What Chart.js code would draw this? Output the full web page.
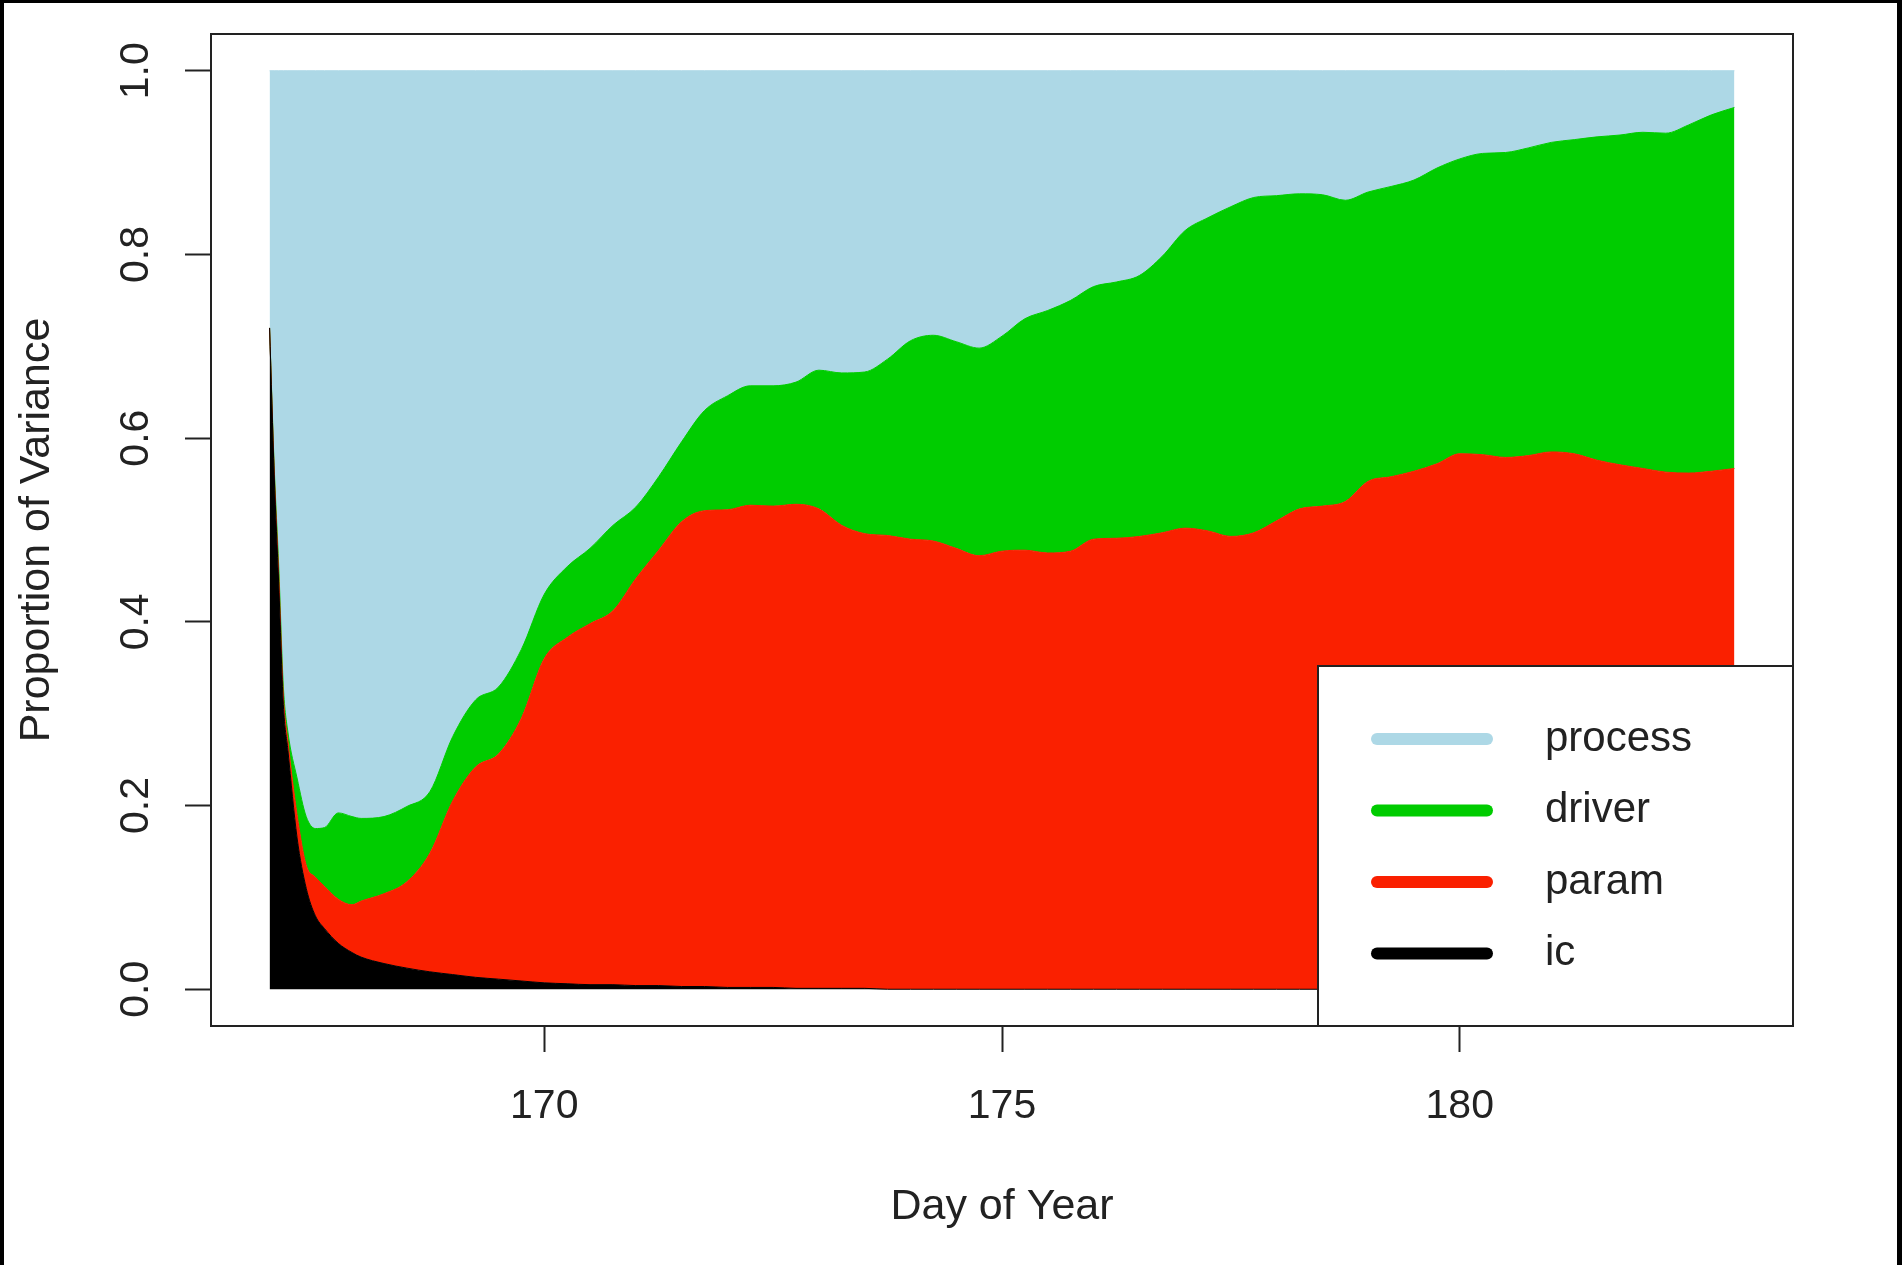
<!DOCTYPE html>
<html>
<head>
<meta charset="utf-8">
<title>Proportion of Variance</title>
<script src="https://cdn.jsdelivr.net/npm/chart.js@4.4.1/dist/chart.umd.min.js"></script>
<style>
  html, body { margin: 0; padding: 0; background: #fff; }
  #wrap { width: 1902px; height: 1265px; position: relative; }
</style>
</head>
<body>
<div id="wrap"><canvas id="varChart"></canvas></div>
<script>
// Day of year (x) and the share of variance of each source
const days = [167, 167.05, 167.1, 167.15, 167.2, 167.3, 167.4, 167.5, 167.6, 167.75, 167.9, 168,
  168.25, 168.5, 168.75, 169, 169.25, 169.5, 169.75, 170, 170.25, 170.5, 170.75, 171,
  171.25, 171.5, 171.75, 172, 172.25, 172.5, 172.75, 173, 173.25, 173.5, 173.75, 174,
  174.25, 174.5, 174.75, 175, 175.25, 175.5, 175.75, 176, 176.25, 176.5, 176.75, 177,
  177.25, 177.5, 177.75, 178, 178.25, 178.5, 178.75, 179, 179.25, 179.5, 179.75, 180,
  180.25, 180.5, 180.75, 181, 181.25, 181.5, 181.75, 182, 182.25, 182.5, 182.75, 183];

const ic = [0.72, 0.56, 0.44, 0.31, 0.26, 0.165, 0.11, 0.08, 0.066, 0.05, 0.04, 0.035,
  0.028, 0.023, 0.019, 0.016, 0.013, 0.011, 0.009, 0.007, 0.006, 0.005, 0.005, 0.004,
  0.004, 0.003, 0.003, 0.002, 0.002, 0.002, 0.001, 0.001, 0.001, 0.001, 0, 0,
  0, 0, 0, 0, 0, 0, 0, 0, 0, 0, 0, 0,
  0, 0, 0, 0, 0, 0, 0, 0, 0, 0, 0, 0,
  0, 0, 0, 0, 0, 0, 0, 0, 0, 0, 0, 0];

const param = [0, 0.005, 0.01, 0.01, 0.01, 0.025, 0.025, 0.042, 0.046, 0.048, 0.052, 0.061,
  0.076, 0.094, 0.129, 0.189, 0.229, 0.245, 0.286, 0.353, 0.377, 0.393, 0.407, 0.443,
  0.474, 0.506, 0.518, 0.52, 0.525, 0.524, 0.527, 0.522, 0.504, 0.495, 0.494, 0.49,
  0.488, 0.48, 0.472, 0.477, 0.478, 0.475, 0.477, 0.49, 0.491, 0.493, 0.497, 0.502,
  0.499, 0.493, 0.497, 0.51, 0.523, 0.526, 0.531, 0.553, 0.558, 0.564, 0.572, 0.583,
  0.582, 0.579, 0.581, 0.585, 0.583, 0.576, 0.571, 0.567, 0.563, 0.562, 0.564, 0.567];

const driver = [0, 0.005, 0.01, 0.01, 0.01, 0.04, 0.053, 0.053, 0.064, 0.094, 0.096, 0.09,
  0.084, 0.082, 0.067, 0.07, 0.073, 0.073, 0.075, 0.07, 0.077, 0.082, 0.093, 0.078,
  0.08, 0.087, 0.109, 0.124, 0.13, 0.131, 0.133, 0.151, 0.166, 0.176, 0.192, 0.216,
  0.224, 0.225, 0.226, 0.234, 0.252, 0.264, 0.273, 0.275, 0.279, 0.284, 0.301, 0.324,
  0.341, 0.359, 0.365, 0.354, 0.343, 0.339, 0.328, 0.315, 0.316, 0.317, 0.322, 0.321,
  0.328, 0.332, 0.335, 0.337, 0.342, 0.352, 0.359, 0.366, 0.369, 0.379, 0.388, 0.393];

const processVar = [0.28, 0.43, 0.54, 0.67, 0.72, 0.77, 0.812, 0.825, 0.824, 0.808, 0.812, 0.814,
  0.812, 0.801, 0.785, 0.725, 0.685, 0.671, 0.63, 0.57, 0.54, 0.52, 0.495, 0.475,
  0.442, 0.404, 0.37, 0.354, 0.343, 0.343, 0.339, 0.326, 0.329, 0.328, 0.314, 0.294,
  0.288, 0.295, 0.302, 0.289, 0.27, 0.261, 0.25, 0.235, 0.23, 0.223, 0.202, 0.174,
  0.16, 0.148, 0.138, 0.136, 0.134, 0.135, 0.141, 0.132, 0.126, 0.119, 0.106, 0.096,
  0.09, 0.089, 0.084, 0.078, 0.075, 0.072, 0.07, 0.067, 0.068, 0.059, 0.048, 0.04];

const xTicks = [170, 175, 180];
const yTicks = [0, 0.2, 0.4, 0.6, 0.8, 1.0];

const seriesNames = ["ic", "param", "driver", "process"];
const seriesColors = ["#000000", "#FA2000", "#00CC00", "#ADD8E6"];
const seriesValues = [ic, param, driver, processVar];

const textColor = "#222";
const FONT = "'Liberation Sans', Arial, sans-serif";
Chart.defaults.font.family = FONT;
Chart.defaults.font.size = 40;
Chart.defaults.color = textColor;

function toPoints(values) {
  return days.map((d, i) => ({ x: d, y: values[i] }));
}

// white page + black picture frame (left, top, right)
const frame = {
  id: "frame",
  beforeDraw(chart) {
    const { ctx, width, height } = chart;
    ctx.save();
    ctx.fillStyle = "#fff";
    ctx.fillRect(0, 0, width, height);
    ctx.restore();
  },
  afterDraw(chart) {
    const { ctx, width, height, chartArea } = chart;
    ctx.save();
    // plot box
    ctx.strokeStyle = textColor;
    ctx.lineWidth = 2;
    ctx.strokeRect(chartArea.left, chartArea.top, chartArea.right - chartArea.left, chartArea.bottom - chartArea.top);
    ctx.fillStyle = "#000";
    ctx.fillRect(0, 0, 4, height);
    ctx.fillRect(0, 0, width, 3);
    ctx.fillRect(width - 5, 0, 5, height);
    ctx.restore();
  }
};

// R style legend box in the lower right corner of the plot
const legendBox = {
  id: "legendBox",
  afterDatasetsDraw(chart) {
    const { ctx, chartArea } = chart;
    const w = 475, h = 360;
    const left = chartArea.right - w;
    const top = chartArea.bottom - h;
    ctx.save();
    ctx.fillStyle = "#fff";
    ctx.fillRect(left, top, w, h);
    ctx.strokeStyle = textColor;
    ctx.lineWidth = 2;
    ctx.strokeRect(left, top, w, h);
    const items = chart.data.datasets.slice().reverse();
    items.forEach((ds, i) => {
      const y = top + 73 + i * 71.5;
      ctx.strokeStyle = ds.backgroundColor;
      ctx.lineWidth = 12;
      ctx.lineCap = "round";
      ctx.beginPath();
      ctx.moveTo(left + 59, y);
      ctx.lineTo(left + 169, y);
      ctx.stroke();
      ctx.fillStyle = textColor;
      ctx.font = "42px " + FONT;
      ctx.textAlign = "left";
      ctx.textBaseline = "middle";
      ctx.fillText(ds.label, left + 227, y);
    });
    ctx.restore();
  }
};

const tickGrid = {
  display: true,
  drawOnChartArea: false,
  drawTicks: true,
  tickLength: 26,
  tickWidth: 2,
  tickColor: textColor
};

new Chart(document.getElementById("varChart"), {
  type: "line",
  data: {
    datasets: seriesNames.map((name, i) => ({
      label: name,
      data: toPoints(seriesValues[i]),
      backgroundColor: seriesColors[i],
      borderColor: seriesColors[i],
      borderWidth: 1,
      pointRadius: 0,
      fill: i === 0 ? "origin" : "-1",
      cubicInterpolationMode: "monotone"
    }))
  },
  options: {
    responsive: true,
    maintainAspectRatio: false,
    animation: false,
    events: [],
    layout: { padding: { top: 34, right: 109, left: 0, bottom: 0 } },
    plugins: {
      legend: { display: false },
      tooltip: { enabled: false }
    },
    scales: {
      x: {
        type: "linear",
        min: 166.36,
        max: 183.64,
        afterBuildTicks: (s) => { s.ticks = xTicks.map((v) => ({ value: v })); },
        afterFit: (s) => { s.height = 239; s.paddingLeft = 0; s.paddingRight = 0; },
        grid: tickGrid,
        border: { display: true, color: textColor, width: 2 },
        ticks: { autoSkip: false, maxRotation: 0, padding: 30, color: textColor, font: { size: 41 } },
        title: { display: true, text: "Day of Year", color: textColor, font: { size: 43 }, padding: { top: 0, bottom: 32 } }
      },
      y: {
        type: "linear",
        stacked: true,
        min: -0.04,
        max: 1.04,
        afterBuildTicks: (s) => { s.ticks = yTicks.map((v) => ({ value: v })); },
        afterFit: (s) => { s.width = 211; s.paddingTop = 0; s.paddingBottom = 0; },
        grid: tickGrid,
        border: { display: true, color: textColor, width: 2 },
        ticks: {
          autoSkip: false,
          minRotation: 90,
          maxRotation: 90,
          crossAlign: "center",
          padding: 20,
          color: textColor,
          font: { size: 41 },
          callback: (v) => Number(v).toFixed(1)
        },
        title: { display: true, text: "Proportion of Variance", color: textColor, font: { size: 43 }, padding: { top: 11, bottom: 0 } }
      }
    }
  },
  plugins: [frame, legendBox]
});
</script>
</body>
</html>
